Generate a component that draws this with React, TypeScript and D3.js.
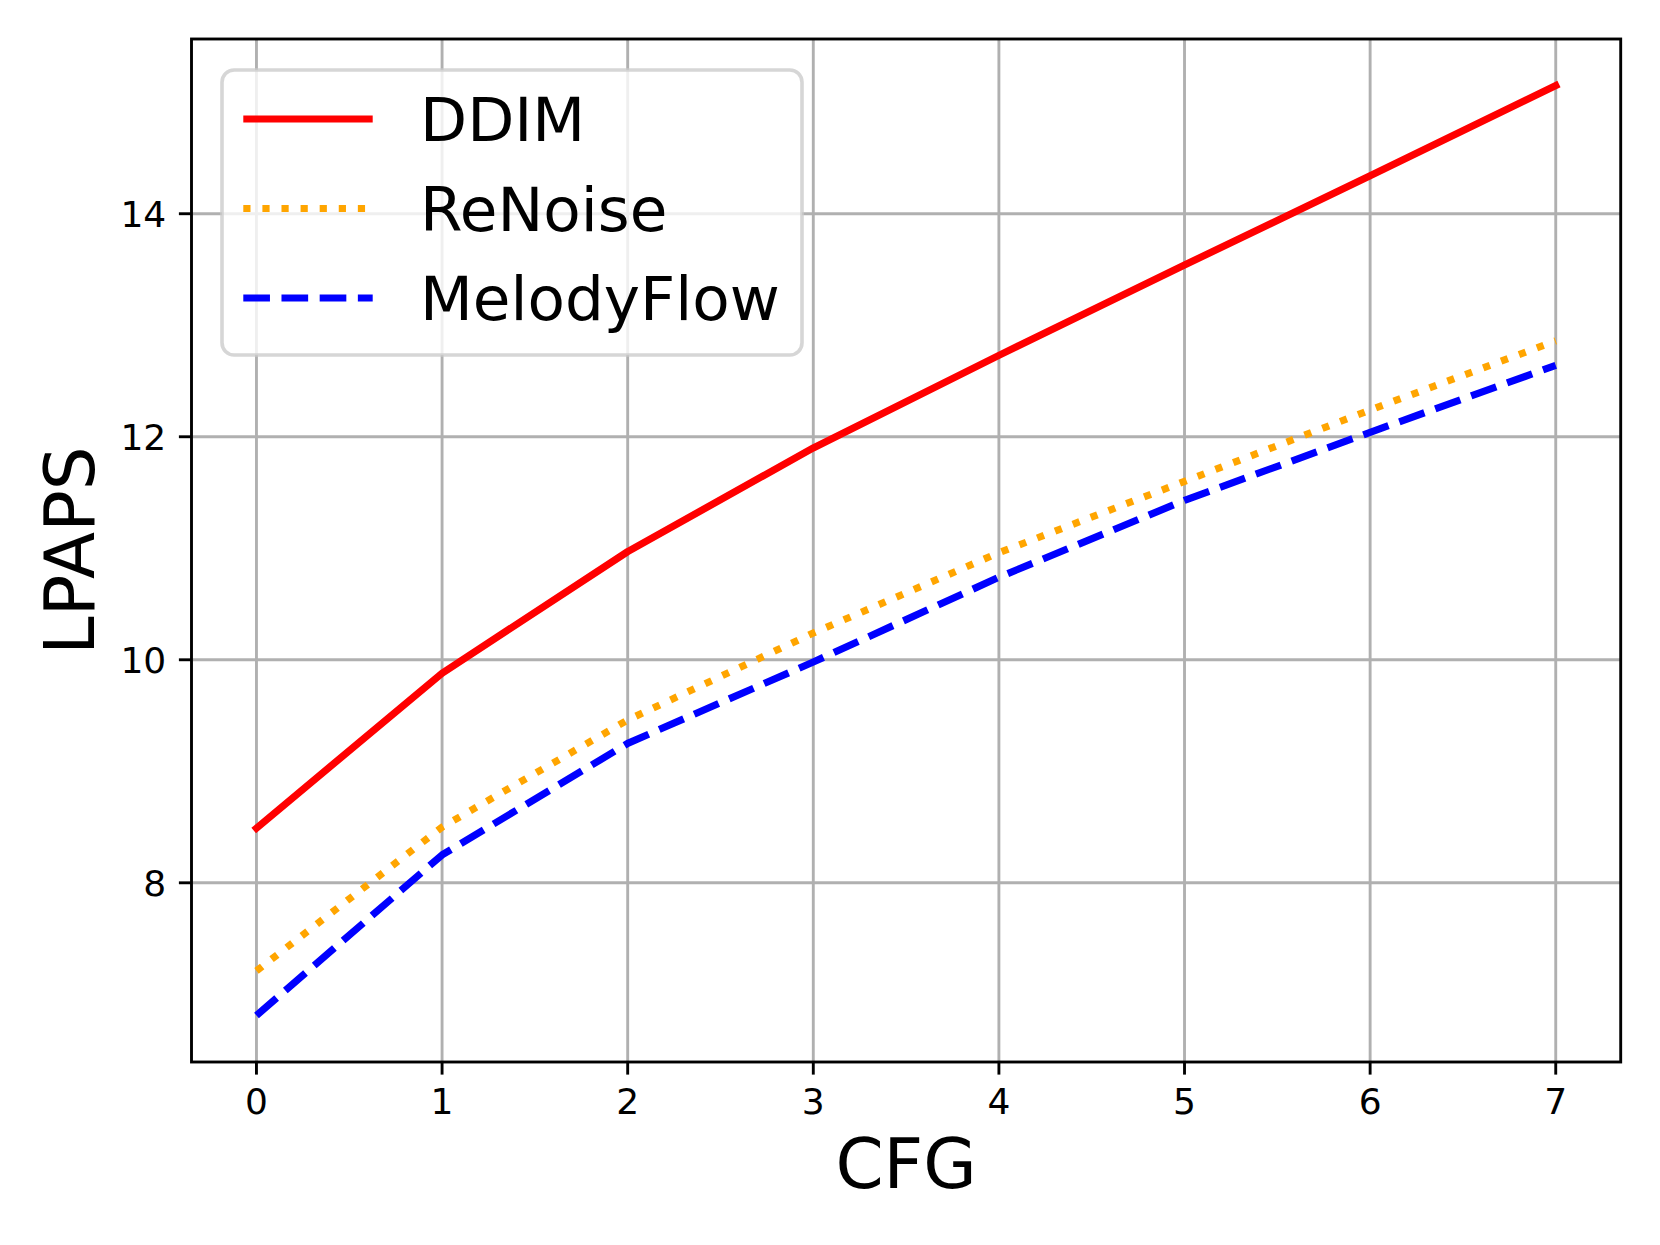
import React from "react";
import * as d3 from "d3";

const cfg = [0, 1, 2, 3, 4, 5, 6, 7];
const ddim = [8.49, 9.88, 10.97, 11.9, 12.73, 13.54, 14.34, 15.15];
const renoise = [7.21, 8.5, 9.46, 10.24, 10.96, 11.6, 12.24, 12.86];
const melodyflow = [6.81, 8.25, 9.25, 9.98, 10.74, 11.43, 12.04, 12.64];
const xTicks = [0, 1, 2, 3, 4, 5, 6, 7];
const yTicks = [8, 10, 12, 14];
const seriesNames = ["DDIM", "ReNoise", "MelodyFlow"];

const W = 1660;
const H = 1245;
const PT = 259.375 / 72;
const LEFT = 191.5;
const RIGHT = 1620.7;
const TOP = 39;
const BOTTOM = 1062;
const LW = 2 * PT;
const FONT = "'DejaVu Sans', sans-serif";

export default function App() {
  const xmin = d3.min(cfg)!;
  const xmax = d3.max(cfg)!;
  const xm = (xmax - xmin) * 0.05;
  const all = [...ddim, ...renoise, ...melodyflow];
  const ymin = d3.min(all)!;
  const ymax = d3.max(all)!;
  const ym = (ymax - ymin) * 0.05;

  const x = d3.scaleLinear().domain([xmin - xm, xmax + xm]).range([LEFT, RIGHT]);
  const y = d3.scaleLinear().domain([ymin - ym, ymax + ym]).range([BOTTOM, TOP]);

  const line = d3
    .line<number>()
    .x((_, i) => x(cfg[i]))
    .y((d) => y(d));

  const series = [
    { name: seriesNames[0], data: ddim, color: "#ff0000", dash: undefined as string | undefined },
    { name: seriesNames[1], data: renoise, color: "#ffa500", dash: `${1 * LW} ${1.65 * LW}` },
    { name: seriesNames[2], data: melodyflow, color: "#0000ff", dash: `${3.7 * LW} ${1.6 * LW}` },
  ];

  const gridColor = "#b0b0b0";
  const gridW = 0.8 * PT;
  const tickLen = 3.5 * PT;
  const tickPad = 3.5 * PT;
  const tickFont = 10 * PT;
  const labelFont = 69;
  const legendFont = 17 * PT;

  // legend layout
  const legX = 222;
  const legY = 70;
  const legW = 580;
  const legH = 285;
  const rowY = [119, 208.5, 298];
  const handleX0 = 243.3;
  const handleX1 = 372.7;
  const textX = 420;

  return (
    <svg
      width={W}
      height={H}
      viewBox={`0 0 ${W} ${H}`}
      style={{ position: "absolute", left: 0, top: 0, display: "block", background: "#ffffff" }}
    >
      <rect x={0} y={0} width={W} height={H} fill="#ffffff" />
      {/* grid */}
      <g>
        {xTicks.map((t) => (
          <line key={"gx" + t} x1={x(t)} x2={x(t)} y1={TOP} y2={BOTTOM} stroke={gridColor} strokeWidth={gridW} />
        ))}
        {yTicks.map((t) => (
          <line key={"gy" + t} x1={LEFT} x2={RIGHT} y1={y(t)} y2={y(t)} stroke={gridColor} strokeWidth={gridW} />
        ))}
      </g>
      {/* lines */}
      <g>
        {series.map((s) => (
          <path
            key={s.name}
            d={line(s.data) || ""}
            fill="none"
            stroke={s.color}
            strokeWidth={LW}
            strokeDasharray={s.dash}
            strokeLinecap={s.dash ? "butt" : "square"}
            strokeLinejoin="round"
          />
        ))}
      </g>
      {/* spines */}
      <rect
        x={LEFT}
        y={TOP}
        width={RIGHT - LEFT}
        height={BOTTOM - TOP}
        fill="none"
        stroke="#000000"
        strokeWidth={0.8 * PT}
        strokeLinejoin="miter"
      />
      {/* ticks */}
      <g fontFamily={FONT} fontSize={tickFont} fill="#000000">
        {xTicks.map((t) => (
          <g key={"xt" + t}>
            <line x1={x(t)} x2={x(t)} y1={BOTTOM} y2={BOTTOM + tickLen} stroke="#000" strokeWidth={0.8 * PT} />
            <text x={x(t)} y={BOTTOM + tickLen + tickPad + 0.74 * tickFont} textAnchor="middle">
              {String(t)}
            </text>
          </g>
        ))}
        {yTicks.map((t) => (
          <g key={"yt" + t}>
            <line x1={LEFT - tickLen} x2={LEFT} y1={y(t)} y2={y(t)} stroke="#000" strokeWidth={0.8 * PT} />
            <text x={LEFT - tickLen - tickPad} y={y(t) + 0.365 * tickFont} textAnchor="end">
              {String(t)}
            </text>
          </g>
        ))}
      </g>
      {/* axis labels */}
      <text x={(LEFT + RIGHT) / 2} y={1188} textAnchor="middle" fontFamily={FONT} fontSize={labelFont} fill="#000">
        CFG
      </text>
      <text
        transform={`translate(94, ${(TOP + BOTTOM) / 2}) rotate(-90)`}
        textAnchor="middle"
        fontFamily={FONT}
        fontSize={labelFont}
        fill="#000"
      >
        LPAPS
      </text>
      {/* legend */}
      <g>
        <rect
          x={legX}
          y={legY}
          width={legW}
          height={legH}
          rx={0.2 * legendFont}
          ry={0.2 * legendFont}
          fill="#ffffff"
          fillOpacity={0.8}
          stroke="#cccccc"
          strokeOpacity={0.8}
          strokeWidth={1.0 * PT}
        />
        {series.map((s, i) => (
          <g key={"leg" + s.name}>
            <line
              x1={handleX0}
              x2={handleX1}
              y1={rowY[i]}
              y2={rowY[i]}
              stroke={s.color}
              strokeWidth={LW}
              strokeDasharray={s.dash}
              strokeLinecap="butt"
            />
            <text x={textX} y={rowY[i] + 0.365 * legendFont} fontFamily={FONT} fontSize={legendFont} fill="#000">
              {s.name}
            </text>
          </g>
        ))}
      </g>
    </svg>
  );
}
